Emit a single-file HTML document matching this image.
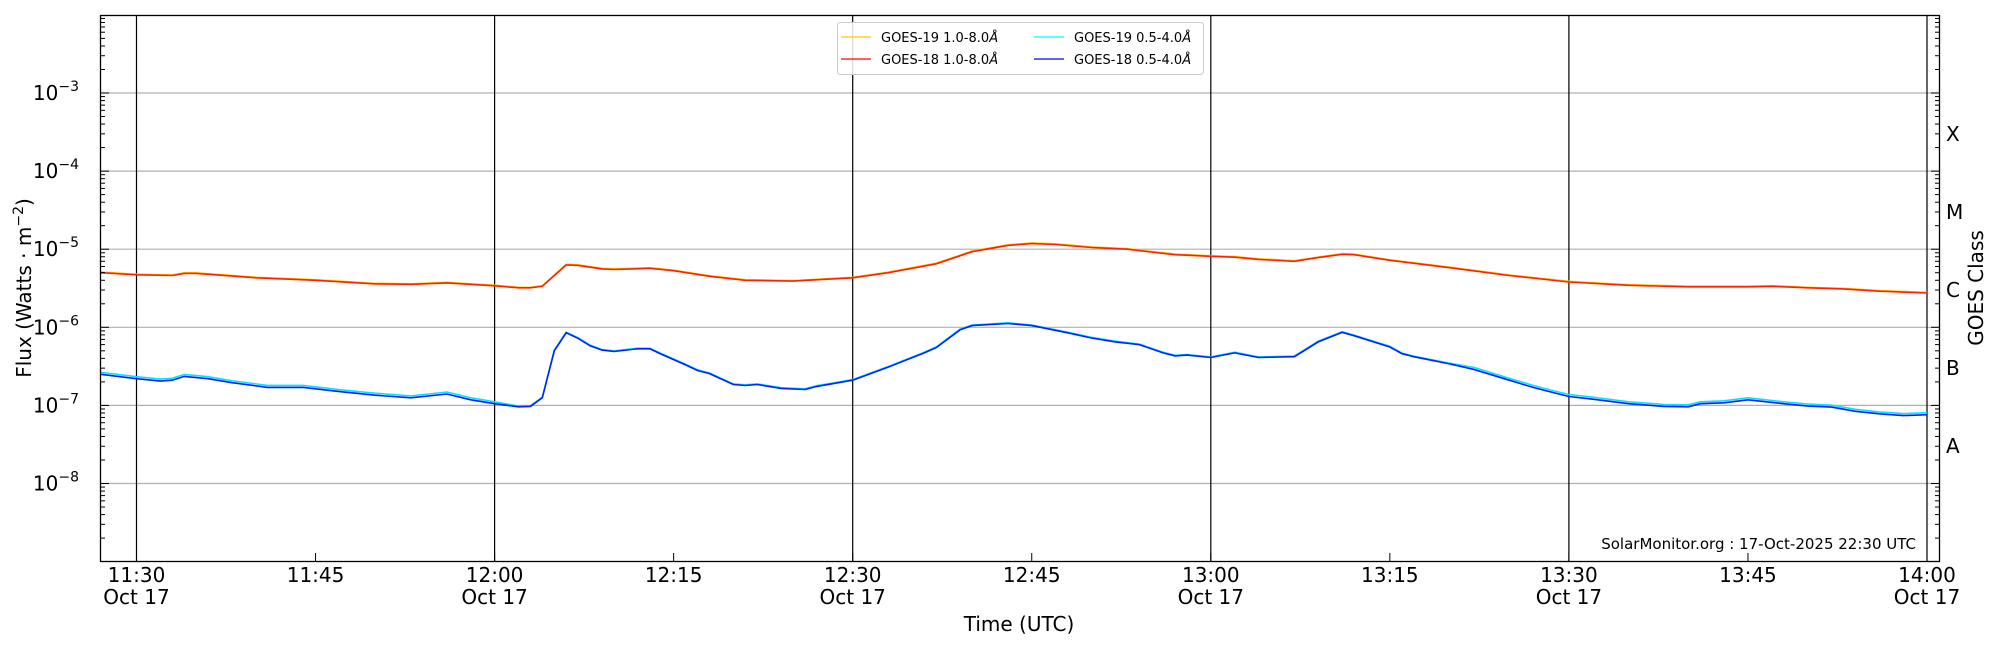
<!DOCTYPE html>
<html><head><meta charset="utf-8"><style>
html,body{margin:0;padding:0;background:#fff;width:2000px;height:650px;overflow:hidden}
svg text{font-family:"DejaVu Sans","Liberation Sans",sans-serif;fill:#000}
</style></head><body>
<svg id="s" width="2000" height="650" viewBox="0 0 2000 650" xmlns="http://www.w3.org/2000/svg">
<g id="grid"></g>
<g id="curves"></g>
<rect x="100.5" y="15.5" width="1839" height="546" fill="none" stroke="#000" stroke-width="1.3"/>
<g id="ticks" stroke="#000" stroke-width="1"></g>
<g id="labels" font-size="20"></g>
<text x="1916" y="549" font-size="15" text-anchor="end">SolarMonitor.org : 17-Oct-2025 22:30 UTC</text>
<text x="1019" y="631" font-size="20" text-anchor="middle">Time (UTC)</text>
<text transform="translate(31,288) rotate(-90)" font-size="20" text-anchor="middle">Flux (Watts · m<tspan dy="-8" font-size="14">−2</tspan><tspan dy="8">)</tspan></text>
<text transform="translate(1983,288) rotate(-90)" font-size="20" text-anchor="middle">GOES Class</text>
<g font-size="20">
<text x="1946" y="141">X</text><text x="1946" y="219">M</text><text x="1946" y="297">C</text><text x="1946" y="375">B</text><text x="1946" y="453">A</text>
</g>
<g>
<rect x="837.5" y="22.5" width="366" height="52" rx="3" fill="#fff" fill-opacity="0.85" stroke="#ccc"/>
<line x1="841" y1="37" x2="871" y2="37" stroke="#ffc800" stroke-width="1.3"/>
<line x1="841" y1="59" x2="871" y2="59" stroke="#ff0000" stroke-width="1.3"/>
<line x1="1034" y1="37" x2="1064" y2="37" stroke="#00ffff" stroke-width="1.3"/>
<line x1="1034" y1="59" x2="1064" y2="59" stroke="#0000ff" stroke-width="1.3"/>
<g font-size="13"><text x="881" y="42">GOES-19 1.0-8.0<tspan font-style="italic">Å</tspan></text>
<text x="881" y="64">GOES-18 1.0-8.0<tspan font-style="italic">Å</tspan></text>
<text x="1074" y="42">GOES-19 0.5-4.0<tspan font-style="italic">Å</tspan></text>
<text x="1074" y="64">GOES-18 0.5-4.0<tspan font-style="italic">Å</tspan></text></g>
</g>
</svg>
<script>
var NS="http://www.w3.org/2000/svg";
function el(p,t,a,txt){var e=document.createElementNS(NS,t);for(var k in a)e.setAttribute(k,a[k]);if(txt!=null)e.textContent=txt;document.getElementById(p).appendChild(e);return e;}
function X(t){return 136.5+(t-30)*358.1/30;}
function Y(v){return 93+(-3-Math.log10(v))*78.1;}
for(var d=-8;d<=-3;d++){var y=Y(Math.pow(10,d));el("grid","line",{x1:100,x2:1940,y1:y,y2:y,stroke:"#b0b0b0","stroke-width":1.2});}
[30,60,90,120,150,180].forEach(function(t){el("grid","line",{x1:X(t),x2:X(t),y1:15,y2:561,stroke:"#000","stroke-width":1.2});});
for(var d=-9;d<=-2;d++){for(var m=1;m<=9;m++){var v=m*Math.pow(10,d);if(v<1e-9||v>1e-2)continue;var y=Y(v);if(y<15||y>561)continue;var L=(m==1)?9:5;
el("ticks","line",{x1:100,x2:100+L,y1:y,y2:y});el("ticks","line",{x1:1940,x2:1940-L,y1:y,y2:y});}}
for(var d=-8;d<=-3;d++){var g=el("labels","text",{x:79,y:Y(Math.pow(10,d))+7,"text-anchor":"end"});g.textContent="10";var ts=document.createElementNS(NS,"tspan");ts.setAttribute("dy","-9");ts.setAttribute("font-size","14");ts.textContent="−"+(-d);g.appendChild(ts);}
[30,45,60,75,90,105,120,135,150,165,180].forEach(function(t){var x=X(t);el("ticks","line",{x1:x,x2:x,y1:561,y2:553});
var h=Math.floor(11+t/60),mm=t%60;var s=h+":"+(mm<10?"0":"")+mm;el("labels","text",{x:x,y:582,"text-anchor":"middle"},s);
if(t%30==0)el("labels","text",{x:x,y:604,"text-anchor":"middle"},"Oct 17");});
var red=[[27,5e-6],[30,4.7e-6],[33,4.6e-6],[34,4.9e-6],[35,4.9e-6],[40,4.3e-6],[45,4.0e-6],[50,3.6e-6],[53,3.55e-6],[56,3.7e-6],[60,3.4e-6],[62,3.2e-6],[63,3.2e-6],[64,3.35e-6],[65,4.6e-6],[66,6.3e-6],[67,6.2e-6],[69,5.6e-6],[70,5.5e-6],[73,5.7e-6],[75,5.3e-6],[78,4.5e-6],[81,4.0e-6],[85,3.9e-6],[90,4.3e-6],[93,5.0e-6],[97,6.5e-6],[100,9.3e-6],[103,1.12e-5],[105,1.18e-5],[107,1.15e-5],[110,1.05e-5],[113,1.0e-5],[115,9.2e-6],[117,8.5e-6],[120,8.1e-6],[122,7.9e-6],[124,7.4e-6],[127,7.0e-6],[129,7.8e-6],[131,8.6e-6],[132,8.5e-6],[135,7.2e-6],[140,5.8e-6],[145,4.6e-6],[150,3.8e-6],[155,3.45e-6],[160,3.3e-6],[162,3.3e-6],[165,3.3e-6],[167,3.35e-6],[170,3.2e-6],[173,3.1e-6],[176,2.9e-6],[180,2.75e-6]];
var blue=[[27,2.5e-7],[30,2.2e-7],[32,2.05e-7],[33,2.1e-7],[34,2.35e-7],[36,2.2e-7],[38,1.95e-7],[41,1.7e-7],[44,1.7e-7],[47,1.5e-7],[50,1.35e-7],[53,1.25e-7],[56,1.4e-7],[58,1.18e-7],[60,1.05e-7],[62,0.96e-7],[63,0.97e-7],[64,1.25e-7],[65,5e-7],[66,8.5e-7],[67,7.2e-7],[68,5.8e-7],[69,5.1e-7],[70,4.9e-7],[72,5.3e-7],[73,5.3e-7],[74,4.5e-7],[76,3.3e-7],[77,2.8e-7],[78,2.55e-7],[80,1.85e-7],[81,1.8e-7],[82,1.85e-7],[84,1.65e-7],[86,1.6e-7],[87,1.75e-7],[90,2.1e-7],[93,3.1e-7],[96,4.7e-7],[97,5.5e-7],[99,9.3e-7],[100,1.05e-6],[103,1.12e-6],[105,1.05e-6],[108,8.5e-7],[110,7.3e-7],[112,6.5e-7],[114,6.0e-7],[116,4.7e-7],[117,4.3e-7],[118,4.4e-7],[120,4.1e-7],[122,4.7e-7],[124,4.1e-7],[127,4.2e-7],[129,6.5e-7],[131,8.6e-7],[132,7.8e-7],[135,5.6e-7],[136,4.6e-7],[137,4.2e-7],[140,3.4e-7],[142,2.9e-7],[145,2.1e-7],[147,1.7e-7],[148,1.55e-7],[150,1.3e-7],[152,1.2e-7],[155,1.05e-7],[158,0.97e-7],[160,0.96e-7],[161,1.05e-7],[163,1.08e-7],[165,1.18e-7],[168,1.05e-7],[170,0.98e-7],[172,0.95e-7],[174,0.84e-7],[176,0.78e-7],[178,0.74e-7],[180,0.76e-7]];
function path(arr,f){return arr.map(function(p,i){return (i?"L":"M")+X(p[0]).toFixed(1)+" "+Y(f(p[0],p[1])).toFixed(1);}).join("");}
el("curves","path",{d:path(red,function(t,v){return v*1.02;}),fill:"none",stroke:"#ffc800","stroke-width":1.5});
el("curves","path",{d:path(red,function(t,v){return v;}),fill:"none",stroke:"#ff2000","stroke-width":1.6});
el("curves","path",{d:path(blue,function(t,v){return v*(t>140||t<62?1.06:1.02);}),fill:"none",stroke:"#00e5ff","stroke-width":1.6});
el("curves","path",{d:path(blue,function(t,v){return v;}),fill:"none",stroke:"#0020ff","stroke-width":1.6});
</script>
</body></html>
